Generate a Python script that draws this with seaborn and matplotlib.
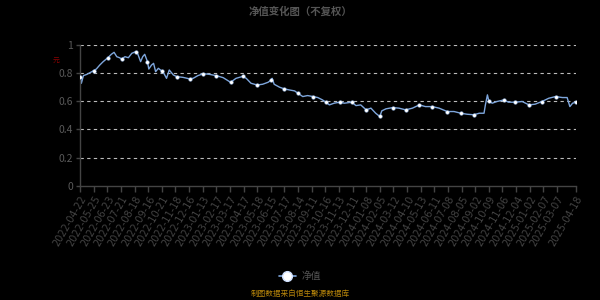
import numpy as np
import pandas as pd
import matplotlib
matplotlib.use("Agg")
import matplotlib.pyplot as plt
import seaborn as sns
from matplotlib.lines import Line2D

# ---- data (trading-day index, net value) ----
day_idx = [0, 2, 5, 10, 20, 24, 29, 34, 41, 46, 50, 54, 58, 61, 66, 71, 76, 82, 85, 89,
           92, 95, 99, 101, 105, 108, 111, 115, 120, 123, 127, 131, 137, 142, 151, 161, 166,
           173, 181, 190, 200, 210, 221, 229, 239, 244, 251, 260, 268, 276, 281, 282, 285,
           293, 300, 307, 315, 320, 327, 334, 342, 349, 356, 361, 366, 373, 381, 388, 399,
           405, 412, 420, 427, 434, 440, 443, 449, 459, 468, 478, 488, 498, 507, 517, 527,
           539, 549, 559, 568, 578, 586, 593, 595, 598, 600, 605, 612, 622, 629, 639, 649,
           659, 668, 678, 688, 698, 708, 715, 719, 723, 728]
nav = [0.769, 0.727, 0.781, 0.790, 0.816, 0.828, 0.856, 0.880, 0.908, 0.932, 0.946, 0.915,
       0.908, 0.899, 0.915, 0.908, 0.939, 0.951, 0.932, 0.880, 0.915, 0.932, 0.880, 0.828,
       0.856, 0.868, 0.809, 0.833, 0.814, 0.798, 0.762, 0.821, 0.786, 0.774, 0.769, 0.758,
       0.762, 0.781, 0.795, 0.790, 0.781, 0.767, 0.734, 0.762, 0.776, 0.762, 0.727, 0.715,
       0.720, 0.734, 0.751, 0.762, 0.720, 0.699, 0.687, 0.680, 0.673, 0.656, 0.633, 0.640,
       0.633, 0.626, 0.609, 0.593, 0.574, 0.586, 0.593, 0.586, 0.593, 0.569, 0.574, 0.539,
       0.551, 0.515, 0.492, 0.532, 0.546, 0.555, 0.551, 0.539, 0.551, 0.574, 0.562, 0.562,
       0.551, 0.527, 0.527, 0.515, 0.508, 0.504, 0.515, 0.515, 0.574, 0.645, 0.602, 0.586,
       0.598, 0.609, 0.593, 0.593, 0.598, 0.574, 0.579, 0.598, 0.621, 0.633, 0.626, 0.626,
       0.562, 0.586, 0.593]

tick_days = [0, 20, 40, 60, 80, 100, 120, 140, 160, 180, 200, 220, 240, 260, 280, 300,
             320, 340, 360, 380, 400, 420, 440, 460, 480, 500, 520, 540, 560, 580, 600,
             620, 640, 660, 680, 700, 728]
tick_labels = ["2022-04-22", "2022-05-25", "2022-06-23", "2022-07-21", "2022-08-18",
               "2022-09-16", "2022-10-21", "2022-11-18", "2022-12-16", "2023-01-13",
               "2023-02-17", "2023-03-17", "2023-04-17", "2023-05-18", "2023-06-15",
               "2023-07-17", "2023-08-14", "2023-09-11", "2023-10-16", "2023-11-13",
               "2023-12-11", "2024-01-08", "2024-02-05", "2024-03-12", "2024-04-10",
               "2024-05-13", "2024-06-11", "2024-07-08", "2024-08-05", "2024-09-02",
               "2024-10-09", "2024-11-06", "2024-12-04", "2025-01-02", "2025-02-07",
               "2025-03-07", "2025-04-18"]
y_ticks = [0, 0.2, 0.4, 0.6, 0.8, 1]
series_name = "净值"
title = "净值变化图（不复权）"
footer = "制图数据来自恒生聚源数据库"
unit = "元"

df = pd.DataFrame({"day": day_idx, "nav": nav})

sns.set_theme(style="dark")
plt.rcParams["font.family"] = ["Noto Sans CJK SC", "DejaVu Sans"]
plt.rcParams["axes.unicode_minus"] = False

fig = plt.figure(figsize=(6, 3), dpi=100, facecolor="black")
ax = fig.add_axes([80 / 600, 1 - 186 / 300, 496 / 600, (186 - 44.7) / 300])
ax.set_facecolor("black")

line_color = "#7ea6dc"
sns.lineplot(data=df, x="day", y="nav", ax=ax, color=line_color, linewidth=1.0, legend=False)

# markers at the points nearest to each tick day
d = np.array(day_idx)
mark_i = sorted({int(np.argmin(np.abs(d - t))) for t in tick_days})
ax.scatter(df["day"].iloc[mark_i], df["nav"].iloc[mark_i], s=7, color="white",
           edgecolors=line_color, linewidths=0.3, zorder=5)

ax.set_xlim(0, 728)
ax.set_ylim(0, 1)
ax.set_yticks(y_ticks)
ax.set_yticklabels(["0", "0.2", "0.4", "0.6", "0.8", "1"], color="#5a5a5a", fontsize=7.5)
ax.set_xticks(tick_days)
ax.set_xticklabels(tick_labels, rotation=60, ha="right", rotation_mode="anchor",
                   color="#444444", fontsize=7, family=["DejaVu Sans"])
ax.set_xlabel("")
ax.set_ylabel("")

ax.grid(False)
for yv in y_ticks[1:]:
    ax.axhline(yv, color="#bbbbbb", linestyle=(0, (3, 3)), linewidth=0.8, zorder=1)

for s in ["top", "right"]:
    ax.spines[s].set_visible(False)
for s in ["left", "bottom"]:
    ax.spines[s].set_visible(True)
    ax.spines[s].set_color("#444444")
    ax.spines[s].set_linewidth(1)
ax.tick_params(axis="x", colors="#444444", length=4, width=1, pad=2, bottom=True)
ax.tick_params(axis="y", colors="#444444", length=3, width=1, pad=2, left=True, labelcolor="#5a5a5a")
for lbl in ax.get_xticklabels():
    lbl.set_color("#444444")

fig.text(0.5, 1 - 12 / 300, title, ha="center", va="center", color="#555555",
         fontsize=7.5, fontweight="bold")
fig.text(56 / 600, 1 - 61 / 300, unit, ha="center", va="center", color="#8b0000", fontsize=5)
fig.text(0.5, 1 - 294 / 300, footer, ha="center", va="center", color="#b8860b", fontsize=5.5)

handle = Line2D([0], [0], color=line_color, linewidth=1.2, marker="o", markersize=7,
                markerfacecolor="white", markeredgecolor="#cfe0ff")
leg = fig.legend([handle], [series_name], loc="center", bbox_to_anchor=(0.5, 1 - 276 / 300),
                 frameon=False, fontsize=7, handlelength=1.8, handletextpad=0.6)
for t in leg.get_texts():
    t.set_color("#555555")

fig.savefig("out.png", dpi=100, facecolor="black")
